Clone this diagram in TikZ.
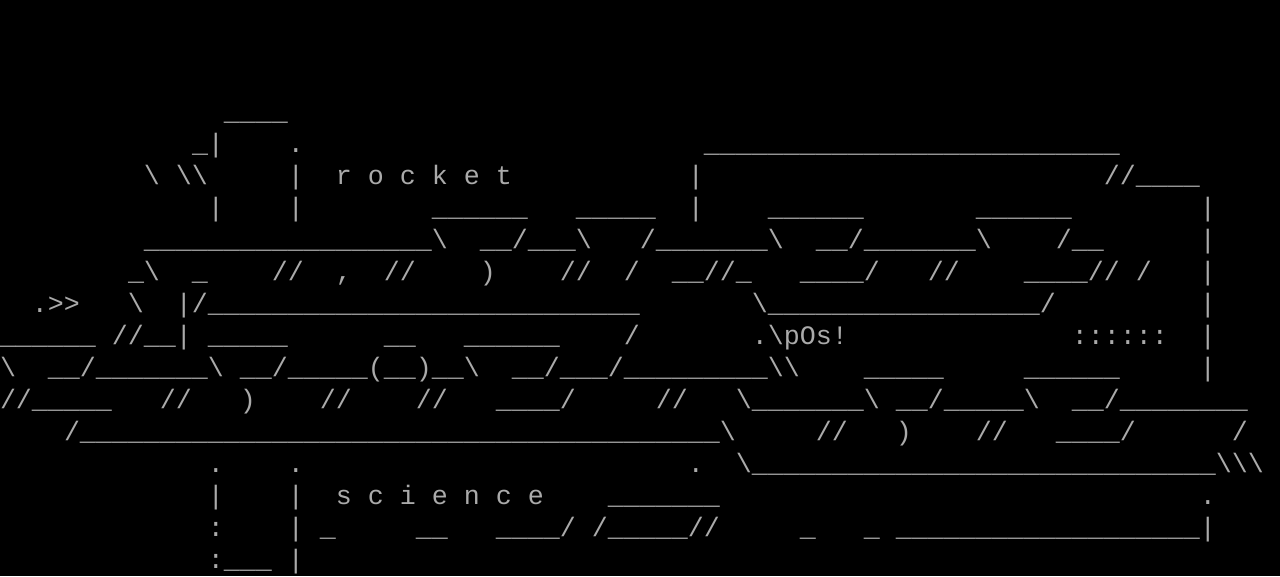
\documentclass[tikz,border=0pt]{standalone}
\usepackage{fontspec}
\setmonofont{Liberation Mono}
\usepackage{tikz}
\usepackage{xcolor}
\definecolor{termgray}{RGB}{170,170,170}
\newlength\charw
\setlength\charw{16pt}
\newcommand\gap[1]{\hspace*{#1\charw}}
\newcommand\bk{\textbackslash}
\newcommand\unds[1]{\foreach \k in {1,...,#1}{\_}}

\begin{document}
\begin{tikzpicture}[x=1pt,y=-1pt,
	asciirow/.style={anchor=base west,inner sep=0pt,outer sep=0pt,text=termgray,
		font=\ttfamily\fontsize{26.66}{32}\selectfont\frenchspacing}]
				\fill [black](0,0)rectangle(1280,576);
				\node [asciirow] (row0) at (0,120){\gap{14}\unds{4}};
				\node [asciirow] (row1) at (0,152){\gap{12}\_|\gap{4}.\gap{25}\unds{26}};
				\node [asciirow] (row2) at (0,184){\gap{9}\bk\gap{1}\bk\bk\gap{5}|\gap{2}r o c k e t\gap{11}|\gap{25}//\unds{4}};
				\node [asciirow] (row3) at (0,216){\gap{13}|\gap{4}|\gap{8}\unds{6}\gap{3}\unds{5}\gap{2}|\gap{4}\unds{6}\gap{7}\unds{6}\gap{8}|};
				\node [asciirow] (row4) at (0,248){\gap{9}\unds{18}\bk\gap{2}\unds{2}/\unds{3}\bk\gap{3}/\unds{7}\bk\gap{2}\unds{2}/\unds{7}\bk\gap{4}/\unds{2}\gap{6}|};
				\node [asciirow] (row5) at (0,280){\gap{8}\_\bk\gap{2}\_\gap{4}//\gap{2},\gap{2}//\gap{4})\gap{4}//\gap{2}/\gap{2}\unds{2}//\_\gap{3}\unds{4}/\gap{3}//\gap{4}\unds{4}//\gap{1}/\gap{3}|};
				\node [asciirow] (row6) at (0,312){\gap{2}.>>\gap{3}\bk\gap{2}|/\unds{27}\gap{7}\bk\unds{17}/\gap{9}|};
				\node [asciirow] (row7) at (0,344){\unds{6}\gap{1}//\unds{2}|\gap{1}\unds{5}\gap{6}\unds{2}\gap{3}\unds{6}\gap{4}/\gap{7}.\bk pOs!\gap{14}::::::\gap{2}|};
				\node [asciirow] (row8) at (0,376){\bk\gap{2}\unds{2}/\unds{7}\bk\gap{1}\unds{2}/\unds{5}(\unds{2})\unds{2}\bk\gap{2}\unds{2}/\unds{3}/\unds{9}\bk\bk\gap{4}\unds{5}\gap{5}\unds{6}\gap{5}|};
				\node [asciirow] (row9) at (0,408){//\unds{5}\gap{3}//\gap{3})\gap{4}//\gap{4}//\gap{3}\unds{4}/\gap{5}//\gap{3}\bk\unds{7}\bk\gap{1}\unds{2}/\unds{5}\bk\gap{2}\unds{2}/\unds{8}};
				\node [asciirow] (row10) at (0,440){\gap{4}/\unds{40}\bk\gap{5}//\gap{3})\gap{4}//\gap{3}\unds{4}/\gap{6}/};
				\node [asciirow] (row11) at (0,472){\gap{13}.\gap{4}.\gap{24}.\gap{2}\bk\unds{29}\bk\bk\bk};
				\node [asciirow] (row12) at (0,504){\gap{13}|\gap{4}|\gap{2}s c i e n c e\gap{4}\unds{7}\gap{30}.};
				\node [asciirow] (row13) at (0,536){\gap{13}:\gap{4}|\gap{1}\_\gap{5}\unds{2}\gap{3}\unds{4}/\gap{1}/\unds{5}//\gap{5}\_\gap{3}\_\gap{1}\unds{19}|};
				\node [asciirow] (row14) at (0,568){\gap{13}:\unds{3}\gap{1}|};
			\end{tikzpicture}
\end{document}
